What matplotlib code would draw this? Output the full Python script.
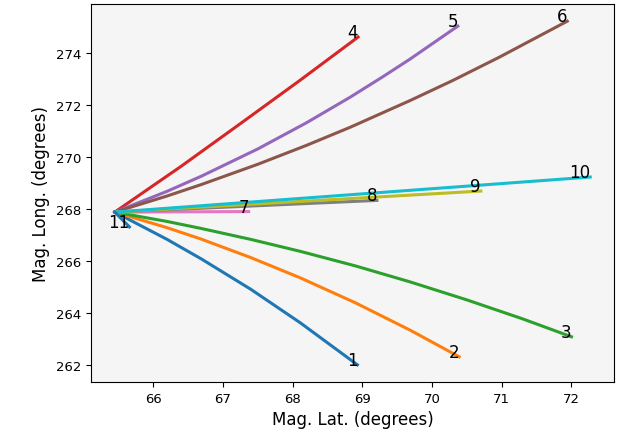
import matplotlib
matplotlib.use("Agg")
import matplotlib.pyplot as plt

# field line traces, all starting from the same footpoint
lat0, lon0 = 65.45, 267.88

lats = [
    [lat0, 66.20, 66.69, 67.40, 68.11, 68.93],                                # 1
    [lat0, 66.20, 66.69, 67.40, 68.11, 68.90, 69.69, 70.39],                  # 2
    [lat0, 66.20, 66.69, 67.40, 68.11, 68.90, 69.69, 70.50, 71.30, 72.00],    # 3
    [lat0, 66.40, 67.30, 68.11, 68.94],                                       # 4
    [lat0, 66.20, 66.69, 67.50, 68.20, 68.83, 69.30, 69.69, 70.37],           # 5
    [lat0, 66.20, 66.69, 67.50, 68.20, 68.83, 69.69, 70.30, 70.97, 71.94],    # 6
    [lat0, 67.37],                                                            # 7
    [lat0, 69.21],                                                            # 8
    [lat0, 70.70],                                                            # 9
    [lat0, 72.27],                                                            # 10
    [lat0, 65.66],                                                            # 11
]
lons = [
    [lon0, 266.83, 266.08, 264.91, 263.62, 262.00],
    [lon0, 267.28, 266.84, 266.13, 265.35, 264.39, 263.33, 262.31],
    [lon0, 267.52, 267.25, 266.83, 266.37, 265.81, 265.19, 264.50, 263.77, 263.08],
    [lon0, 269.64, 271.38, 272.96, 274.62],
    [lon0, 268.68, 269.26, 270.31, 271.32, 272.31, 273.10, 273.78, 275.04],
    [lon0, 268.50, 268.94, 269.72, 270.45, 271.15, 272.18, 272.95, 273.85, 275.23],
    [lon0, 267.90],
    [lon0, 268.33],
    [lon0, 268.69],
    [lon0, 269.23],
    [lon0, 267.31],
]
labels = [str(i) for i in range(1, 12)]

fig = plt.figure(figsize=(6.19, 4.35), dpi=100)
ax = fig.add_axes([0.147, 0.1195, 0.845, 0.869])
ax.set_facecolor('#f5f5f5')

for x, y, lab in zip(lats, lons, labels):
    ax.plot(x, y, lw=2.2)
    ax.text(x[-1], y[-1], lab, ha='right', va='baseline', fontsize=12)

ax.set_xlabel("Mag. Lat. (degrees)", fontsize=12)
ax.set_ylabel("Mag. Long. (degrees)", fontsize=12)
ax.tick_params(labelsize=9.5)

fig.savefig("out.png", dpi=100)
